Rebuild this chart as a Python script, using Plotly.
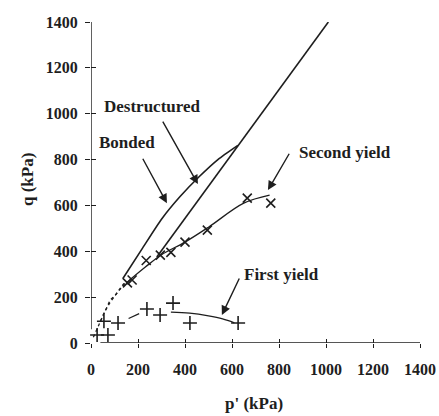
import plotly.graph_objects as go

# stress paths / yield data (kPa)
bonded_p = [135, 220, 300, 380, 460, 540, 625]
bonded_q = [280, 415, 540, 640, 725, 800, 862]

destr_p = [280, 1010]
destr_q = [375, 1400]

second_line_p = [150, 230, 300, 400, 500, 650, 760]
second_line_q = [262, 330, 385, 440, 505, 610, 645]
second_p = [155, 175, 235, 295, 340, 400, 495, 665, 765]
second_q = [262, 275, 360, 383, 395, 440, 492, 632, 610]

first_line_p = [340, 420, 500, 560, 610]
first_line_q = [135, 130, 118, 105, 88]
first_dash_p = [160, 205]
first_dash_q = [107, 128]
first_p = [26, 72, 55, 115, 238, 294, 349, 421, 626]
first_q = [35, 35, 95, 87, 148, 122, 174, 87, 87]

dots1_p = [10, 30, 47, 65, 81, 100, 115, 130, 145]
dots1_q = [25, 70, 113, 150, 187, 205, 222, 242, 261]
dots2_p = [40, 60, 80, 100, 120, 140]
dots2_q = [95, 140, 175, 205, 235, 260]

ticks = [0, 200, 400, 600, 800, 1000, 1200, 1400]

ink = "#1e1e1e"
serif = "Liberation Serif"

W, H = 439, 416
# plot area in pixels
L, R, T, B = 91, 420, 22, 343

def px_to_paper(px, py):
    return (px - L) / (R - L), 1 - (py - T) / (B - T)

fig = go.Figure()

fig.add_trace(go.Scatter(x=bonded_p, y=bonded_q, mode="lines",
                         line=dict(color=ink, width=1.6, shape="spline", smoothing=0.6)))
fig.add_trace(go.Scatter(x=destr_p, y=destr_q, mode="lines",
                         line=dict(color=ink, width=1.6)))
fig.add_trace(go.Scatter(x=second_line_p, y=second_line_q, mode="lines",
                         line=dict(color=ink, width=1.3, shape="spline")))
fig.add_trace(go.Scatter(x=second_p, y=second_q, mode="markers",
                         marker=dict(symbol="x-thin", size=9, line=dict(color=ink, width=1.6))))
fig.add_trace(go.Scatter(x=first_line_p, y=first_line_q, mode="lines",
                         line=dict(color=ink, width=1.3, shape="spline")))
fig.add_trace(go.Scatter(x=first_dash_p, y=first_dash_q, mode="lines",
                         line=dict(color=ink, width=1.3)))
fig.add_trace(go.Scatter(x=first_p, y=first_q, mode="markers", cliponaxis=False,
                         marker=dict(symbol="cross-thin", size=10, line=dict(color=ink, width=1.6))))
fig.add_trace(go.Scatter(x=dots1_p, y=dots1_q, mode="lines", cliponaxis=False,
                         line=dict(color=ink, width=1.3, dash="dot")))
fig.add_trace(go.Scatter(x=dots2_p, y=dots2_q, mode="lines",
                         line=dict(color=ink, width=1.3, dash="dot")))
# dummy trace so the second (tick-only) axes get drawn
fig.add_trace(go.Scatter(x=[0], y=[0], xaxis="x2", yaxis="y2", mode="markers",
                         marker=dict(opacity=0), hoverinfo="skip"))

# axis lines drawn as shapes (they do not meet at the origin in the original)
fig.add_shape(type="line", xref="x", yref="y", x0=0, x1=0, y0=60, y1=1400,
              line=dict(color=ink, width=1.4))
fig.add_shape(type="line", xref="x", yref="y", x0=40, x1=1400, y0=0, y1=0,
              line=dict(color=ink, width=1.4))

def arrow(x, y, ax, ay):
    fig.add_annotation(x=x, y=y, ax=ax, ay=ay, xref="x", yref="y", axref="x", ayref="y",
                       text="", showarrow=True, arrowhead=2, arrowsize=1.3,
                       arrowwidth=1.4, arrowcolor=ink, standoff=0)

arrow(323, 610, 217, 810)   # Bonded
arrow(455, 693, 302, 972)   # Destructured
arrow(753, 667, 847, 832)   # Second yield
arrow(557, 122, 634, 288)   # First yield

texts = [("Destructured", 152, 107), ("Bonded", 127, 142),
         ("Second yield", 345, 153), ("First yield", 281, 274)]
for t, px, py in texts:
    xp, yp = px_to_paper(px, py)
    fig.add_annotation(x=xp, y=yp, xref="paper", yref="paper",
                       text="<b>%s</b>" % t, showarrow=False, xanchor="center", yanchor="middle",
                       font=dict(family=serif, size=17, color=ink))

xp, yp = px_to_paper(254, 404)
fig.add_annotation(x=xp, y=yp, xref="paper", yref="paper",
                   text="<b>p' (kPa)</b>", showarrow=False, xanchor="center", yanchor="middle",
                   font=dict(family=serif, size=17, color=ink))
xp, yp = px_to_paper(27, 180)
fig.add_annotation(x=xp, y=yp, xref="paper", yref="paper",
                   text="<b>q (kPa)</b>", showarrow=False, textangle=-90,
                   xanchor="center", yanchor="middle",
                   font=dict(family=serif, size=17, color=ink))

axis_common = dict(range=[0, 1400], tickvals=ticks, showgrid=False, zeroline=False,
                   showline=False, tickcolor=ink, tickwidth=1.3, automargin=False)
tick_font = dict(family=serif, size=16, color=ink, weight="bold")

fig.update_layout(
    width=W, height=H,
    margin=dict(l=L, r=W - R, t=T, b=H - B, autoexpand=False),
    paper_bgcolor="white", plot_bgcolor="white",
    showlegend=False,
    xaxis=dict(**axis_common, ticks="outside", ticklen=4, ticklabelstandoff=8,
               tickfont=tick_font),
    yaxis=dict(**axis_common, ticks="outside", ticklen=5, ticklabelstandoff=4,
               tickfont=tick_font),
    xaxis2=dict(**axis_common, overlaying="x", ticks="inside", ticklen=4,
                showticklabels=False, anchor="y2"),
    yaxis2=dict(**axis_common, overlaying="y", ticks="inside", ticklen=5,
                showticklabels=False, anchor="x2"),
)

# drop the browser's default page margin so the figure fills the window exactly
fig.write_html("out.html", config={"displayModeBar": False},
               post_script="document.body.style.margin='0';document.body.style.overflow='hidden';")
